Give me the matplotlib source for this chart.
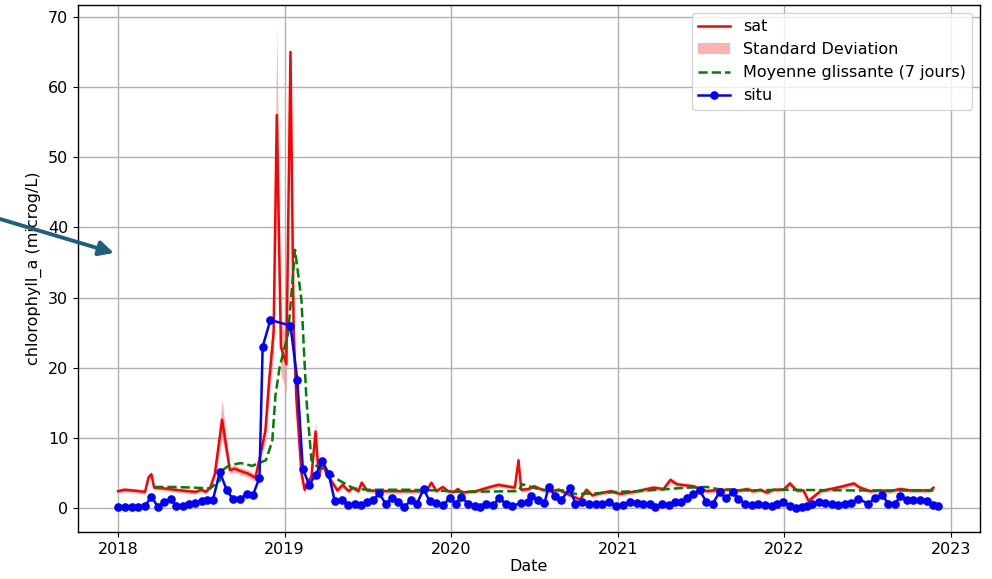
import pandas as pd
import matplotlib
matplotlib.use("Agg")
import matplotlib.pyplot as plt
import matplotlib.dates as mdates
from matplotlib.patches import FancyArrowPatch

# satellite chlorophyll (mean and standard deviation)
sat_dates = [
    "2018-01-01", "2018-01-15", "2018-02-01", "2018-02-15", "2018-03-01", "2018-03-09",
    "2018-03-15", "2018-03-21", "2018-04-10", "2018-05-05", "2018-06-01", "2018-06-20",
    "2018-07-03", "2018-07-12", "2018-07-22", "2018-08-01", "2018-08-17", "2018-09-03",
    "2018-09-14", "2018-09-25", "2018-10-13", "2018-10-29", "2018-11-08", "2018-11-20",
    "2018-11-28", "2018-12-08", "2018-12-15", "2018-12-24", "2019-01-05", "2019-01-14",
    "2019-01-21", "2019-01-27", "2019-02-07", "2019-02-14", "2019-02-20", "2019-03-01",
    "2019-03-10", "2019-03-17", "2019-03-25", "2019-04-02", "2019-04-17", "2019-04-27",
    "2019-05-08", "2019-05-22", "2019-05-30", "2019-06-12", "2019-06-19", "2019-07-01",
    "2019-08-15", "2019-10-01", "2019-11-08", "2019-11-19", "2019-11-30", "2019-12-14",
    "2019-12-25", "2020-01-08", "2020-01-16", "2020-01-25", "2020-02-25", "2020-03-27",
    "2020-04-14", "2020-05-02", "2020-05-20", "2020-05-28", "2020-06-03", "2020-06-19",
    "2020-07-01", "2020-07-19", "2020-08-06", "2020-08-25", "2020-09-12", "2020-09-26",
    "2020-10-10", "2020-10-24", "2020-11-06", "2020-11-23", "2020-12-17", "2021-01-06",
    "2021-02-12", "2021-03-20", "2021-04-11", "2021-04-26", "2021-05-10", "2021-06-01",
    "2021-06-16", "2021-07-01", "2021-07-15", "2021-07-30", "2021-08-28", "2021-09-26",
    "2021-10-11", "2021-10-25", "2021-11-09", "2021-11-24", "2021-12-08", "2021-12-30",
    "2022-01-13", "2022-01-28", "2022-02-12", "2022-02-23", "2022-03-06", "2022-03-21",
    "2022-04-12", "2022-05-04", "2022-06-02", "2022-06-16", "2022-07-08", "2022-07-30",
    "2022-08-21", "2022-09-12", "2022-10-04", "2022-10-26", "2022-11-17", "2022-11-24",
]
sat_values = [
    2.4, 2.6, 2.5, 2.4, 2.3, 4.4,
    4.8, 2.9, 2.8, 2.6, 2.4, 2.3,
    2.6, 2.3, 2.9, 4.8, 12.6, 5.4,
    5.6, 5.3, 4.9, 4.3, 7.3, 11.0,
    18.0, 25.0, 56.0, 23.0, 20.5, 65.0,
    25.0, 15.5, 5.0, 2.6, 3.5, 4.5,
    10.9, 4.5, 6.6, 5.0, 3.5, 2.5,
    3.3, 2.4, 2.9, 2.4, 3.6, 2.5,
    2.4, 2.4, 2.4, 3.6, 2.4, 3.0,
    2.4, 2.3, 2.7, 2.2, 2.4, 3.0,
    3.3, 3.1, 2.9, 6.8, 2.6, 2.7,
    3.1, 2.6, 2.4, 2.6, 2.0, 1.6,
    1.2, 2.6, 1.8, 2.1, 2.4, 2.0,
    2.4, 2.9, 2.7, 4.0, 3.4, 3.2,
    3.1, 2.7, 2.4, 2.5, 2.6, 2.5,
    2.7, 2.4, 2.6, 2.2, 2.6, 2.6,
    3.5, 2.5, 2.5, 1.0, 1.6, 2.4,
    2.7, 3.0, 3.5, 2.9, 2.4, 2.5,
    2.4, 2.7, 2.5, 2.5, 2.5, 2.9,
]
sat_std = [
    0.3, 0.3, 0.3, 0.3, 0.3, 0.4,
    0.4, 0.3, 0.3, 0.3, 0.3, 0.3,
    0.3, 0.3, 0.3, 0.4, 2.8, 0.5,
    0.5, 0.5, 0.5, 0.5, 0.8, 1.5,
    2.5, 3.0, 12.5, 4.0, 4.0, 0.5,
    3.0, 3.0, 1.0, 0.6, 0.5, 0.5,
    1.5, 0.5, 0.7, 0.5, 0.4, 0.3,
    0.4, 0.3, 0.3, 0.3, 0.4, 0.3,
    0.3, 0.3, 0.3, 0.3, 0.3, 0.3,
    0.3, 0.3, 0.3, 0.3, 0.3, 0.3,
    0.3, 0.3, 0.3, 0.5, 0.3, 0.3,
    0.3, 0.3, 0.3, 0.3, 0.3, 0.3,
    0.3, 0.3, 0.3, 0.3, 0.3, 0.3,
    0.3, 0.3, 0.3, 0.4, 0.3, 0.3,
    0.3, 0.3, 0.3, 0.3, 0.3, 0.3,
    0.3, 0.3, 0.3, 0.3, 0.3, 0.3,
    0.4, 0.3, 0.3, 0.3, 0.3, 0.3,
    0.3, 0.3, 0.3, 0.3, 0.3, 0.3,
    0.3, 0.3, 0.3, 0.3, 0.3, 0.3,
]

# 7-day rolling mean of the satellite series
roll_dates = [
    "2018-03-21", "2018-05-01", "2018-06-15", "2018-07-22", "2018-08-12", "2018-08-18",
    "2018-09-02", "2018-09-27", "2018-10-22", "2018-11-21", "2018-12-05", "2018-12-12",
    "2018-12-21", "2019-01-09", "2019-01-24", "2019-02-07", "2019-02-18", "2019-03-01",
    "2019-03-12", "2019-04-05", "2019-04-29", "2019-05-18", "2019-06-01", "2019-07-01",
    "2019-10-01", "2019-12-01", "2020-01-20", "2020-05-28", "2020-06-05", "2020-06-20",
    "2020-07-15", "2020-09-01", "2020-10-01", "2020-11-15", "2020-12-31", "2021-02-15",
    "2021-06-01", "2021-07-15", "2021-08-08", "2021-10-15", "2021-12-31", "2022-06-01",
    "2022-11-24",
]
roll_values = [
    3.0, 3.0, 2.9, 2.8, 3.9, 5.4,
    6.1, 6.4, 6.0, 6.8, 9.5, 16.0,
    20.0, 24.9, 36.8, 29.7, 15.4, 6.8,
    6.0, 5.3, 4.0, 3.3, 2.8, 2.6,
    2.6, 2.5, 2.3, 2.4, 3.4, 3.1,
    2.6, 2.5, 2.0, 2.1, 2.3, 2.4,
    2.9, 3.0, 2.7, 2.5, 2.6, 2.5,
    2.5,
]

# in situ measurements
situ_dates = [
    "2018-01-01", "2018-01-16", "2018-01-31", "2018-02-14", "2018-03-01", "2018-03-15",
    "2018-03-29", "2018-04-12", "2018-04-27", "2018-05-08", "2018-05-23", "2018-06-06",
    "2018-06-19", "2018-07-03", "2018-07-16", "2018-07-28", "2018-08-12", "2018-08-27",
    "2018-09-09", "2018-09-25", "2018-10-10", "2018-10-24", "2018-11-07", "2018-11-14",
    "2018-12-01", "2019-01-14", "2019-01-29", "2019-02-10", "2019-02-24", "2019-03-10",
    "2019-03-25", "2019-04-08", "2019-04-21", "2019-05-08", "2019-05-20", "2019-06-04",
    "2019-06-18", "2019-06-30", "2019-07-15", "2019-07-27", "2019-08-11", "2019-08-25",
    "2019-09-06", "2019-09-21", "2019-10-06", "2019-10-18", "2019-11-02", "2019-11-15",
    "2019-11-30", "2019-12-14", "2019-12-30", "2020-01-11", "2020-01-24", "2020-02-07",
    "2020-02-22", "2020-03-05", "2020-03-18", "2020-04-02", "2020-04-16", "2020-04-30",
    "2020-05-14", "2020-06-03", "2020-06-17", "2020-06-25", "2020-07-09", "2020-07-24",
    "2020-08-02", "2020-08-17", "2020-08-30", "2020-09-17", "2020-09-30", "2020-10-15",
    "2020-10-29", "2020-11-13", "2020-11-28", "2020-12-12", "2020-12-27", "2021-01-13",
    "2021-01-28", "2021-02-12", "2021-02-26", "2021-03-13", "2021-03-24", "2021-04-08",
    "2021-04-22", "2021-05-07", "2021-05-19", "2021-06-01", "2021-06-15", "2021-06-29",
    "2021-07-14", "2021-07-28", "2021-08-12", "2021-08-26", "2021-09-10", "2021-09-22",
    "2021-10-07", "2021-10-22", "2021-11-05", "2021-11-20", "2021-12-04", "2021-12-15",
    "2021-12-30", "2022-01-13", "2022-01-27", "2022-02-08", "2022-02-20", "2022-03-03",
    "2022-03-17", "2022-04-01", "2022-04-15", "2022-04-29", "2022-05-14", "2022-05-28",
    "2022-06-12", "2022-07-04", "2022-07-19", "2022-08-03", "2022-08-17", "2022-09-01",
    "2022-09-12", "2022-09-26", "2022-10-11", "2022-10-25", "2022-11-09", "2022-11-23",
    "2022-12-04",
]
situ_values = [
    0.1, 0.2, 0.2, 0.2, 0.3, 1.6,
    0.2, 0.8, 1.3, 0.3, 0.3, 0.5,
    0.7, 1.0, 1.2, 1.2, 5.1, 2.6,
    1.3, 1.3, 2.0, 1.9, 4.3, 23.0,
    26.8, 26.0, 18.2, 5.6, 3.3, 4.7,
    6.7, 4.8, 1.0, 1.2, 0.4, 0.5,
    0.4, 0.9, 1.1, 2.1, 0.6, 1.4,
    0.8, 0.2, 1.1, 0.6, 2.7, 1.0,
    0.7, 0.4, 1.4, 0.6, 1.6, 0.6,
    0.3, 0.1, 0.6, 0.4, 1.4, 0.6,
    0.3, 0.7, 0.9, 1.7, 1.1, 0.7,
    3.0, 1.7, 1.1, 2.8, 0.6, 0.9,
    0.6, 0.6, 0.6, 0.8, 0.3, 0.4,
    0.9, 0.7, 0.6, 0.6, 0.1, 0.6,
    0.4, 0.9, 0.8, 1.4, 2.0, 2.5,
    0.9, 0.6, 2.3, 1.4, 2.3, 1.3,
    0.6, 0.4, 0.6, 0.4, 0.3, 0.6,
    0.9, 0.3, 0.0, 0.2, 0.3, 0.6,
    0.9, 0.7, 0.6, 0.4, 0.6, 0.7,
    1.3, 0.6, 1.4, 1.9, 0.6, 0.6,
    1.7, 1.2, 1.2, 1.1, 1.0, 0.4,
    0.3,
]


def main():
    plt.rcParams["font.size"] = 11.5

    sat_t = pd.to_datetime(sat_dates)
    roll_t = pd.to_datetime(roll_dates)
    situ_t = pd.to_datetime(situ_dates)
    low = [v - s for v, s in zip(sat_values, sat_std)]
    high = [v + s for v, s in zip(sat_values, sat_std)]

    fig = plt.figure(figsize=(9.92, 5.79), dpi=100)
    ax = fig.add_axes([0.0786, 0.0812, 0.9093, 0.9102])

    ax.plot(sat_t, sat_values, color="red", linewidth=1.8, label="sat")
    ax.fill_between(sat_t, low, high, color="red", alpha=0.3, linewidth=0,
                    label="Standard Deviation")
    ax.plot(roll_t, roll_values, color="green", linestyle="--", linewidth=1.8,
            label="Moyenne glissante (7 jours)")
    ax.plot(situ_t, situ_values, color="blue", marker="o", markersize=5.2,
            linewidth=1.8, label="situ")

    ax.set_xlim(pd.Timestamp("2017-10-05"), pd.Timestamp("2023-03-06"))
    ax.set_ylim(-3.42, 71.7)
    ax.xaxis.set_major_locator(mdates.YearLocator())
    ax.xaxis.set_major_formatter(mdates.DateFormatter("%Y"))
    ax.set_xlabel("Date", labelpad=2)
    ax.set_ylabel("chlorophyll_a (microg/L)")
    ax.grid(True, linewidth=1.0)
    for side in ax.spines.values():
        side.set_linewidth(1.0)
    ax.legend(loc="upper right")

    # pointer drawn over the figure, aimed at the y-axis label
    arrow = FancyArrowPatch((0.0, 1 - 219 / 579), (114 / 992, 1 - 253 / 579),
                            transform=fig.transFigure, arrowstyle="-|>",
                            mutation_scale=22, linewidth=2.8, color="#1d5f80",
                            shrinkA=0, shrinkB=0)
    fig.add_artist(arrow)

    fig.savefig("out.png", dpi=100)


if __name__ == "__main__":
    main()
